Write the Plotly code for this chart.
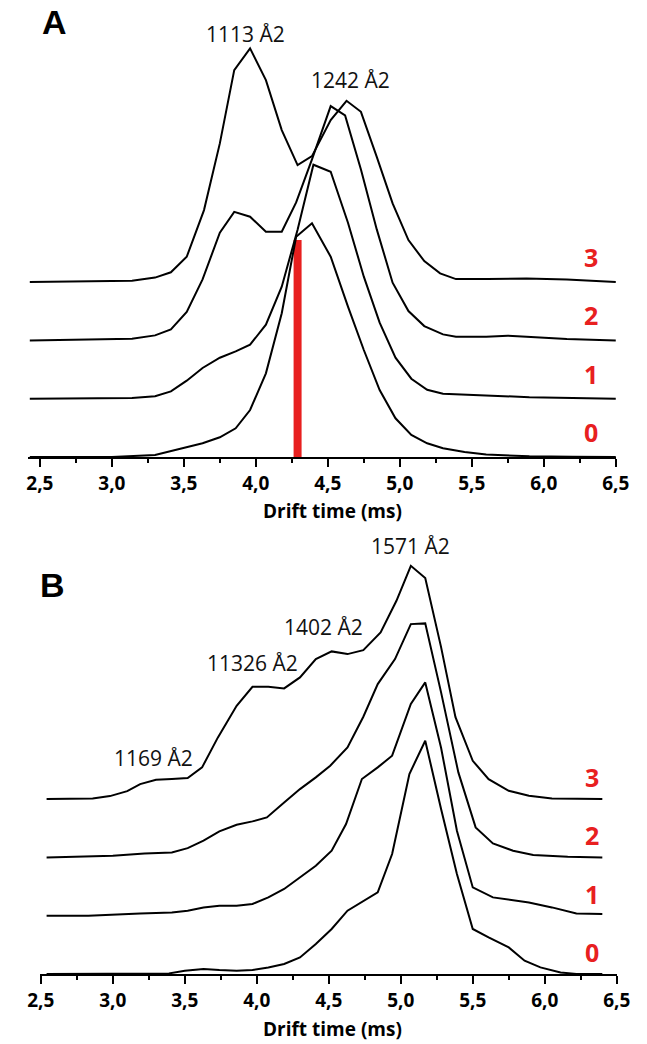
import plotly.graph_objects as go

# ---------------- Data (drift time in ms, relative intensity in a.u.) ----------------
# Panel A
A0_x = [2.43, 3.0, 3.3, 3.5, 3.63, 3.75, 3.86, 3.96, 4.07, 4.18, 4.28, 4.39, 4.52, 4.64, 4.75, 4.86, 4.97, 5.08, 5.19, 5.3, 5.45, 5.6, 5.9, 6.2, 6.5]
A0_y = [0, 0, 2, 8.7, 13.7, 19.7, 28.7, 47, 83.7, 143.7, 220.3, 233.7, 200.3, 150.3, 107, 67, 38.7, 22, 13.7, 8.7, 5, 2.5, 0.7, 0.3, 0]

A1_x = [2.43, 3.14, 3.3, 3.41, 3.52, 3.63, 3.75, 3.86, 3.96, 4.07, 4.18, 4.29, 4.40, 4.52, 4.64, 4.75, 4.86, 4.97, 5.08, 5.19, 5.3, 5.6, 5.9, 6.5]
A1_y = [0, 0.7, 2.5, 7.3, 18, 30.7, 41, 47.3, 54, 74, 112, 169, 234, 227, 176, 122, 76, 41, 20, 9, 5, 3, 1.5, 0]

A2_x = [2.43, 3.14, 3.3, 3.41, 3.52, 3.63, 3.75, 3.85, 3.96, 4.07, 4.18, 4.28, 4.39, 4.52, 4.62, 4.73, 4.84, 4.95, 5.06, 5.17, 5.3, 5.39, 5.6, 5.75, 5.88, 6.16, 6.5]
A2_y = [0, 1.7, 5, 11, 28.5, 61, 107.7, 128.5, 123.7, 108.7, 108.7, 138, 181, 234.3, 225, 171, 111, 57.7, 29.3, 14.3, 6, 3.7, 3.7, 4.7, 3.7, 1.3, 0]

A3_x = [2.43, 3.14, 3.3, 3.41, 3.52, 3.64, 3.75, 3.85, 3.96, 4.07, 4.18, 4.29, 4.39, 4.52, 4.63, 4.73, 4.84, 4.95, 5.06, 5.17, 5.28, 5.39, 5.61, 5.88, 6.16, 6.5]
A3_y = [0, 1.3, 4.5, 9.8, 25.3, 72, 138.7, 212, 233.7, 202, 152, 117, 126, 162, 181.3, 170.3, 125.3, 78.7, 42, 21, 8.7, 3, 3, 3.7, 2.7, 0]

A_MARKER_X = 4.29
A_MARKER_H = 217

# Panel B
B0_x = [2.54, 3.0, 3.39, 3.5, 3.63, 3.74, 3.86, 3.97, 4.08, 4.19, 4.3, 4.41, 4.52, 4.63, 4.74, 4.84, 4.94, 5.06, 5.17, 5.28, 5.39, 5.5, 5.61, 5.75, 5.86, 5.97, 6.11, 6.22, 6.4]
B0_y = [0, 0, 0.6, 3.3, 5, 4, 3.3, 4, 6.6, 10, 16.6, 30, 45, 63.3, 73.3, 81.6, 120, 200, 233.3, 165, 100, 45, 36.6, 26.6, 13.3, 6.6, 1.6, 0, 0]

B1_x = [2.54, 2.83, 3.19, 3.41, 3.52, 3.63, 3.74, 3.86, 3.97, 4.08, 4.19, 4.3, 4.41, 4.52, 4.62, 4.73, 4.84, 4.94, 5.07, 5.17, 5.28, 5.39, 5.5, 5.64, 5.89, 6.05, 6.22, 6.4]
B1_y = [0, 0, 2.3, 3.3, 5, 8.3, 10, 10, 11.7, 18.3, 26.7, 38.3, 50, 65, 91.7, 136.7, 148.3, 160, 211.7, 233.3, 168, 85, 28.3, 18.3, 13.3, 8.3, 2.3, 1.7]

B2_x = [2.54, 3.0, 3.22, 3.41, 3.52, 3.63, 3.74, 3.86, 3.97, 4.07, 4.19, 4.3, 4.41, 4.51, 4.63, 4.74, 4.84, 4.96, 5.07, 5.17, 5.28, 5.4, 5.52, 5.64, 5.78, 5.92, 6.16, 6.4]
B2_y = [0, 1.7, 4, 5, 9.3, 16.7, 26, 32.7, 36, 40, 55, 68.3, 80, 91.7, 110, 140.7, 173.3, 198.3, 233.3, 234, 165, 85, 30, 14, 6.7, 2.3, 0.7, 0]

B3_x = [2.54, 2.86, 2.98, 3.1, 3.19, 3.3, 3.41, 3.52, 3.62, 3.73, 3.86, 3.97, 4.08, 4.19, 4.3, 4.41, 4.52, 4.63, 4.74, 4.86, 4.97, 5.07, 5.17, 5.28, 5.38, 5.5, 5.61, 5.75, 5.89, 6.05, 6.4]
B3_y = [0, 0.6, 3, 8, 15, 19.3, 20, 21, 31.7, 61.7, 93.3, 112.3, 112.3, 110.7, 121.7, 140, 147.7, 145, 149, 166.7, 198.3, 233.3, 221, 152, 82, 38.3, 20, 8.3, 3.3, 0.7, 0]

TRACE_NAMES = ["0", "1", "2", "3"]
OFFSET = 58.3   # vertical stacking step between traces

A_PEAK_LABELS = ["1113 Å2", "1242 Å2"]
A_PEAK_X = [3.93, 4.66]
A_PEAK_Y = [423, 377]

B_PEAK_LABELS = ["1169 Å2", "11326 Å2", "1402 Å2", "1571 Å2"]
B_PEAK_X = [3.285, 3.973, 4.463, 5.067]
B_PEAK_Y = [216, 311, 347, 428]

TICK_VALS = [2.5, 3.0, 3.5, 4.0, 4.5, 5.0, 5.5, 6.0, 6.5]
TICK_TEXT = ["2,5", "3,0", "3,5", "4,0", "4,5", "5,0", "5,5", "6,0", "6,5"]
X_TITLE = "Drift time (ms)"

# ---------------- Figure ----------------
W, H = 647, 1044
RED = "#e8201f"
LINE_W = 2

fig = go.Figure()

# red marker bar in panel A
fig.add_trace(go.Scatter(x=[A_MARKER_X, A_MARKER_X], y=[0, A_MARKER_H], mode="lines",
                         line=dict(color=RED, width=8), xaxis="x", yaxis="y",
                         hoverinfo="skip"))

A_series = [(A0_x, A0_y), (A1_x, A1_y), (A2_x, A2_y), (A3_x, A3_y)]
B_series = [(B0_x, B0_y), (B1_x, B1_y), (B2_x, B2_y), (B3_x, B3_y)]

for i, (xs, ys) in enumerate(A_series):
    fig.add_trace(go.Scatter(x=xs, y=[v + i * OFFSET for v in ys], mode="lines",
                             line=dict(color="black", width=LINE_W),
                             name="A " + TRACE_NAMES[i], xaxis="x", yaxis="y"))
for i, (xs, ys) in enumerate(B_series):
    fig.add_trace(go.Scatter(x=xs, y=[v + i * OFFSET for v in ys], mode="lines",
                             line=dict(color="black", width=LINE_W),
                             name="B " + TRACE_NAMES[i], xaxis="x2", yaxis="y2"))

annotations = []
label_font = dict(family="Open Sans", size=21, color="#111111")
for t, x, y in zip(A_PEAK_LABELS, A_PEAK_X, A_PEAK_Y):
    annotations.append(dict(text=t, x=x, y=y, xref="x", yref="y", showarrow=False, font=label_font))
for t, x, y in zip(B_PEAK_LABELS, B_PEAK_X, B_PEAK_Y):
    annotations.append(dict(text=t, x=x, y=y, xref="x2", yref="y2", showarrow=False, font=label_font))

num_font = dict(family="Open Sans", size=25, color=RED, weight="bold")
for i, name in enumerate(TRACE_NAMES):
    annotations.append(dict(text=name, x=6.33, y=i * OFFSET + 25, xref="x", yref="y",
                            showarrow=False, font=num_font))
    annotations.append(dict(text=name, x=6.33, y=i * OFFSET + 22, xref="x2", yref="y2",
                            showarrow=False, font=num_font))

panel_font = dict(family="Liberation Sans", size=34, color="black", weight="bold")
annotations.append(dict(text="A", x=43 / W, y=1 - 22 / H, xref="paper", yref="paper",
                        showarrow=False, font=panel_font, xanchor="center", yanchor="middle"))
annotations.append(dict(text="B", x=41 / W, y=1 - 585 / H, xref="paper", yref="paper",
                        showarrow=False, font=panel_font, xanchor="center", yanchor="middle"))

title_font = dict(family="Open Sans", size=19, color="black", weight="bold")
annotations.append(dict(text=X_TITLE, x=333 / W, y=1 - 511 / H, xref="paper", yref="paper",
                        showarrow=False, font=title_font, xanchor="center", yanchor="middle"))
annotations.append(dict(text=X_TITLE, x=333 / W, y=1 - 1029 / H, xref="paper", yref="paper",
                        showarrow=False, font=title_font, xanchor="center", yanchor="middle"))

tick_font = dict(family="Open Sans", size=19, color="black", weight="bold")
common_x = dict(showline=True, linecolor="black", linewidth=2, ticks="outside", ticklen=8,
                tickwidth=1.5, tickcolor="black", tickmode="array", tickvals=TICK_VALS,
                ticktext=TICK_TEXT, tickfont=tick_font, showgrid=False, zeroline=False,
                minor=dict(ticks="outside", ticklen=4, tickwidth=1.5, tickcolor="black",
                           tickmode="linear", tick0=2.5, dtick=0.25, showgrid=False))

# 150 px per ms; x=2.5 at px 28 (A) / 29 (B)
a_lo, a_hi = 2.42, 6.505
b_lo, b_hi = 2.497, 6.503
fig.update_layout(
    width=W, height=H, margin=dict(l=0, r=0, t=0, b=0),
    paper_bgcolor="white", plot_bgcolor="white", showlegend=False,
    xaxis=dict(domain=[(28 - (2.5 - a_lo) * 150) / W, (28 + (a_hi - 2.5) * 150) / W],
               range=[a_lo, a_hi], anchor="y", **common_x),
    yaxis=dict(domain=[1 - 457 / H, 1], range=[0, 457], visible=False),
    xaxis2=dict(domain=[(29 - (2.5 - b_lo) * 150) / W, (29 + (b_hi - 2.5) * 150) / W],
                range=[b_lo, b_hi], anchor="y2", **common_x),
    yaxis2=dict(domain=[1 - 974 / H, 1 - 520 / H], range=[0, 454], visible=False),
    annotations=annotations,
)

fig.write_html("out.html")
